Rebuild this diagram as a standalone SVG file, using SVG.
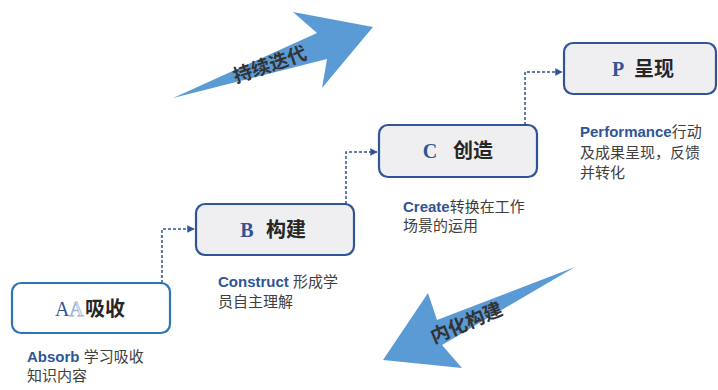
<svg xmlns="http://www.w3.org/2000/svg" width="718" height="390" viewBox="0 0 718 390">
<defs>
<marker id="ah" viewBox="0 0 10 10" refX="9" refY="5" markerWidth="5" markerHeight="5" orient="auto" markerUnits="strokeWidth">
<path d="M0,0 L10,5 L0,10 z" fill="#2f5597"/>
</marker>
<style>
.box{fill:#efeff1;stroke:#2f5597;stroke-width:2.2}
.boxa{fill:#ffffff;stroke:#2e75b6;stroke-width:2.2}
.ltr{font-family:"Liberation Serif",serif;font-weight:bold;font-size:20px;fill:#2f5597;text-anchor:middle}
.cn{font-family:"Noto Sans CJK SC","Liberation Sans",sans-serif;font-weight:bold;font-size:20px;fill:#262626;text-anchor:middle}
.desc{font-family:"Liberation Sans","Noto Sans CJK SC",sans-serif;font-size:15px;fill:#404040}
.en{font-weight:bold;fill:#2f5597}
.conn{fill:none;stroke:#2f5597;stroke-width:1.5;stroke-dasharray:3 2}
.big{fill:#5b9bd5}
.bt{font-family:"Noto Sans CJK SC","Liberation Sans",sans-serif;font-weight:bold;font-size:19px;fill:#333333;text-anchor:middle}
</style>
</defs>
<rect width="718" height="390" fill="#ffffff"/>

<g id="arrow-up">
<polygon class="big" points="173,98 317,33 293,12 373,27 322,88 327,59"/>
<text class="bt" transform="translate(272,71) rotate(-19)">持续迭代</text>
</g>
<g id="arrow-down">
<polygon class="big" points="575,267 437,320 428,293 383,360 462,368 442,345"/>
<text class="bt" transform="translate(469,329) rotate(-23)">内化构建</text>
</g>

<g id="connectors">
<path class="conn" d="M162,283 V229 H194" marker-end="url(#ah)"/>
<path class="conn" d="M346,204 V152 H377" marker-end="url(#ah)"/>
<path class="conn" d="M525,125 V72 H562" marker-end="url(#ah)"/>
</g>

<g id="node-a">
<rect class="boxa" x="12" y="283" width="158" height="50" rx="9"/>
<text x="55" y="316" font-family="Liberation Serif,serif" font-size="20" fill="#2f5597">A</text>
<text x="69" y="316" font-family="Liberation Serif,serif" font-size="20" fill="#ffffff" stroke="#9db3d6" stroke-width="0.8">A</text>
<text class="cn" x="105" y="316">吸收</text>
<text class="desc" x="27" y="362"><tspan class="en">Absorb</tspan> 学习吸收</text>
<text class="desc" x="27" y="381">知识内容</text>
</g>

<g id="node-b">
<rect class="box" x="196" y="204" width="158" height="51" rx="9"/>
<text class="ltr" x="247" y="237">B</text>
<text class="cn" x="286" y="237">构建</text>
<text class="desc" x="218" y="287"><tspan class="en">Construct</tspan> 形成学</text>
<text class="desc" x="218" y="307">员自主理解</text>
</g>

<g id="node-c">
<rect class="box" x="379" y="125" width="158" height="52" rx="9"/>
<text class="ltr" x="430" y="158">C</text>
<text class="cn" x="473" y="158">创造</text>
<text class="desc" x="403" y="212"><tspan class="en">Create</tspan>转换在工作</text>
<text class="desc" x="403" y="231">场景的运用</text>
</g>

<g id="node-p">
<rect class="box" x="564" y="43" width="152" height="51" rx="9"/>
<text class="ltr" x="618" y="76">P</text>
<text class="cn" x="654" y="76">呈现</text>
<text class="desc" x="580" y="137"><tspan class="en">Performance</tspan>行动</text>
<text class="desc" x="580" y="158">及成果呈现，反馈</text>
<text class="desc" x="580" y="178">并转化</text>
</g>
</svg>
